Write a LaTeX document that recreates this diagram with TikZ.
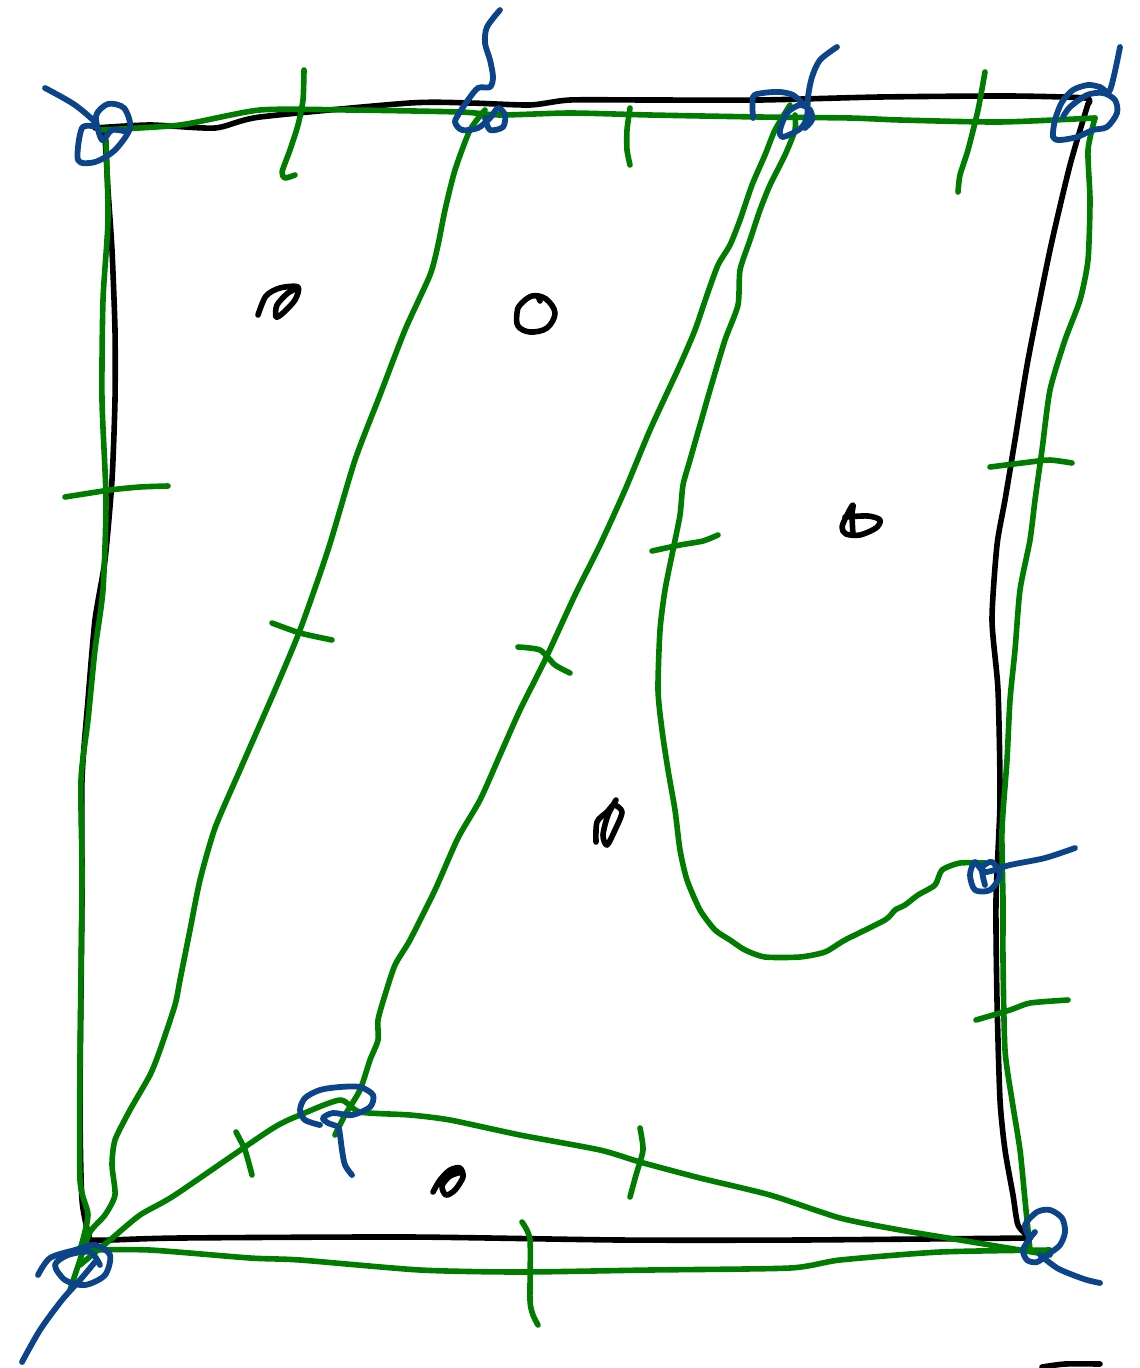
\documentclass[tikz,border=0pt]{standalone}
\begin{document}
\begin{tikzpicture}[x=1pt,y=-1pt,line cap=round,line join=round,
  blk/.style={draw=black,line width=5.6pt},
  grn/.style={draw={rgb,255:red,0;green,125;blue,0},line width=5.6pt},
  blu/.style={draw={rgb,255:red,12;green,68;blue,138},line width=5.8pt}]
\useasboundingbox (0,0) rectangle (1140,1368);
\fill[white] (0,0) rectangle (1140,1368);
% black frame
\draw[blk] plot[smooth,tension=0.4] coordinates {(95,128) (150,125) (215,128) (260,117) (410,103) (470,103) (530,105) (570,100) (650,100) (760,100) (880,97) (1010,96) (1085,98) (1088,104)};
\draw[blk] plot[smooth,tension=0.4] coordinates {(1088,104) (1070,165) (1050,250) (1028,360) (1015,440) (1005,500) (997,545) (992,620) (998,690) (1000,800) (996,900) (997,1000) (1000,1100) (1005,1150) (1013,1195) (1018,1225) (1030,1238)};
\draw[blk] plot[smooth,tension=0.4] coordinates {(1030,1238) (800,1240) (620,1240) (410,1237) (180,1238) (110,1240) (90,1240)};
\draw[blk] plot[smooth,tension=0.4] coordinates {(90,1240) (82,1200) (80,1100) (82,900) (82,780) (88,700) (95,620) (105,560) (112,480) (115,400) (115,330) (112,250) (108,190) (105,140) (100,128)};
% green edges
\draw[grn] plot[smooth,tension=0.4] coordinates {(100,130) (180,125) (260,110) (350,110) (460,112) (500,115) (570,113) (650,115) (760,117) (850,118) (900,120) (1000,122) (1095,118)};
\draw[grn] plot[smooth,tension=0.4] coordinates {(106,140) (108,220) (103,300) (102,400) (106,500) (103,590) (95,650) (88,720) (81,780) (82,880) (80,1060) (80,1180) (88,1215) (80,1250)};
\draw[grn] plot[smooth,tension=0.4] coordinates {(1095,118) (1088,150) (1090,200) (1088,260) (1080,300) (1065,340) (1050,390) (1042,450) (1035,500) (1030,540) (1020,590) (1015,650) (1010,700) (1007,760) (1002,830) (1003,900) (1003,960) (1005,1050) (1012,1100) (1020,1150) (1025,1200) (1030,1250)};
\draw[grn] plot[smooth,tension=0.4] coordinates {(90,1250) (150,1250) (250,1258) (300,1260) (420,1270) (520,1272) (650,1270) (790,1268) (840,1260) (940,1252) (1050,1250)};
% diagonals
\draw[grn] plot[smooth,tension=0.4] coordinates {(485,110) (470,130) (455,170) (445,210) (438,245) (430,275) (405,330) (380,395) (355,460) (328,550) (300,630) (275,690) (240,770) (215,828) (200,880) (190,930) (180,980) (175,1005) (160,1050) (150,1075) (130,1110) (115,1140) (112,1165) (115,1195) (105,1215) (90,1232) (80,1260) (70,1290)};
\draw[grn] plot[smooth,tension=0.4] coordinates {(790,105) (775,130) (765,155) (752,185) (740,220) (730,245) (718,265) (707,295) (695,330) (680,365) (650,430) (625,490) (600,545) (575,595) (545,660) (520,710) (500,755) (480,800) (458,838) (435,890) (410,940) (395,965) (385,995) (378,1020) (378,1040) (370,1060) (360,1090) (345,1115) (335,1135)};
\draw[grn] plot[smooth,tension=0.4] coordinates {(795,115) (795,130) (785,155) (770,185) (760,210) (750,240) (740,270) (738,305) (725,340) (710,390) (700,425) (690,460) (683,485) (680,515) (673,550) (665,590) (660,630) (658,690) (662,730) (668,770) (675,810) (680,850) (687,880) (700,910) (715,930) (730,940) (745,950) (765,957) (800,957) (825,952) (845,940) (885,920) (895,910) (905,905) (918,895) (935,885) (942,870) (960,863) (985,863)};
\draw[grn] plot[smooth,tension=0.4] coordinates {(80,1265) (110,1240) (140,1215) (175,1195) (270,1130) (300,1115) (340,1100) (360,1112) (410,1115) (450,1120) (520,1135) (600,1150) (640,1162) (700,1178) (770,1195) (840,1218) (900,1230) (960,1240) (1050,1255)};
% ticks
\draw[grn] plot[smooth,tension=0.4] coordinates {(304,70) (303,100) (298,125) (290,150) (282,172) (285,178) (295,175)};
\draw[grn] plot[smooth,tension=0.4] coordinates {(630,108) (627,130) (627,150) (630,165)};
\draw[grn] plot[smooth,tension=0.4] coordinates {(985,72) (978,110) (968,150) (960,175) (958,192)};
\draw[grn] plot[smooth,tension=0.4] coordinates {(65,497) (110,490) (140,487) (168,486)};
\draw[grn] plot[smooth,tension=0.4] coordinates {(990,467) (1030,462) (1050,460) (1072,463)};
\draw[grn] plot[smooth,tension=0.4] coordinates {(272,623) (300,633) (332,640)};
\draw[grn] plot[smooth,tension=0.4] coordinates {(518,647) (540,650) (555,665) (570,673)};
\draw[grn] plot[smooth,tension=0.4] coordinates {(652,551) (680,545) (703,541) (718,535)};
\draw[grn] plot[smooth,tension=0.4] coordinates {(976,1020) (1010,1010) (1030,1003) (1068,1000)};
\draw[grn] plot[smooth,tension=0.4] coordinates {(236,1132) (245,1150) (252,1175)};
\draw[grn] plot[smooth,tension=0.4] coordinates {(640,1128) (643,1150) (636,1175) (630,1197)};
\draw[grn] plot[smooth,tension=0.4] coordinates {(522,1222) (530,1240) (530,1300) (533,1315) (538,1325)};
% blue knots
\draw[blu] plot[smooth,tension=0.5] coordinates {(45,88) (75,105) (97,125) (82,128) (78,160) (95,162) (115,150) (130,128) (124,108) (108,104) (96,116) (102,140) (112,130) (128,132)};
\draw[blu] plot[smooth,tension=0.5] coordinates {(500,10) (487,27) (485,43) (490,60) (493,77) (490,87) (478,88) (468,100) (460,112) (455,122) (462,130) (478,128) (490,118) (498,108) (505,115) (503,127) (490,130) (485,118)};
\draw[blu] plot[smooth,tension=0.5] coordinates {(753,118) (753,97) (763,93) (780,92) (793,95) (802,103)};
\draw[blu] plot[smooth,tension=0.5] coordinates {(837,47) (820,60) (812,77) (808,97) (807,117) (802,127) (793,133) (782,137) (780,130) (787,113) (800,105) (810,110) (812,120) (805,128)};
\draw[blu] plot[smooth,tension=0.5] coordinates {(1120,47) (1110,90) (1100,87) (1088,85) (1073,90) (1062,102) (1055,120) (1053,137) (1060,140) (1077,137) (1093,130) (1107,127) (1117,113) (1115,100) (1103,93) (1087,95) (1070,107) (1063,117)};
\draw[blu] plot[smooth,tension=0.5] coordinates {(1075,848) (1045,858) (1010,865) (985,872) (975,862) (970,875) (975,890) (990,890) (1000,875) (992,862) (982,868) (985,885)};
\draw[blu] plot[smooth,tension=0.5] coordinates {(38,1275) (50,1258) (75,1250) (95,1245) (110,1255) (105,1275) (85,1285) (65,1280) (55,1265) (68,1255) (90,1252) (100,1265)};
\draw[blu] plot[smooth,tension=0.5] coordinates {(22,1362) (40,1330) (62,1300) (80,1280) (95,1262)};
\draw[blu] plot[smooth,tension=0.5] coordinates {(320,1125) (305,1120) (300,1110) (305,1098) (320,1090) (340,1087) (360,1087) (373,1095) (370,1107) (352,1115) (333,1113) (323,1118) (328,1123) (338,1127) (340,1135) (342,1150) (345,1165) (352,1175)};
\draw[blu] plot[smooth,tension=0.5] coordinates {(1030,1238) (1025,1225) (1037,1212) (1050,1210) (1062,1218) (1065,1232) (1060,1245) (1050,1253) (1037,1262) (1027,1260) (1023,1250) (1030,1238) (1035,1232)};
\draw[blu] plot[smooth,tension=0.5] coordinates {(1040,1255) (1057,1268) (1073,1275) (1087,1280) (1100,1283)};
% black doodles
\draw[blk] plot[smooth,tension=0.5] coordinates {(258,315) (266,296) (280,288) (298,287) (295,300) (283,313) (276,317) (277,305) (288,293) (298,288)};
\draw[blk] plot[smooth cycle,tension=0.6] coordinates {(520,305) (532,296) (546,299) (555,313) (547,328) (530,332) (518,326) (517,313)};
\draw[blk] (538,296) -- (540,301);
\draw[blk] plot[smooth,tension=0.5] coordinates {(853,535) (852,515) (853,505) (848,513) (842,527) (846,534) (860,535) (876,528) (880,520) (868,516) (845,517)};
\draw[blk] plot[smooth,tension=0.5] coordinates {(596,842) (597,822) (607,812) (614,805) (622,812) (615,830) (607,845) (603,835) (608,815) (616,800)};
\draw[blk] plot[smooth,tension=0.5] coordinates {(433,1192) (440,1180) (450,1170) (460,1168) (463,1177) (455,1190) (446,1195) (442,1186) (450,1176) (462,1172)};
\draw[blk] plot[smooth,tension=0.4] coordinates {(1042,1367) (1065,1364) (1100,1364)};
\end{tikzpicture}
\end{document}
